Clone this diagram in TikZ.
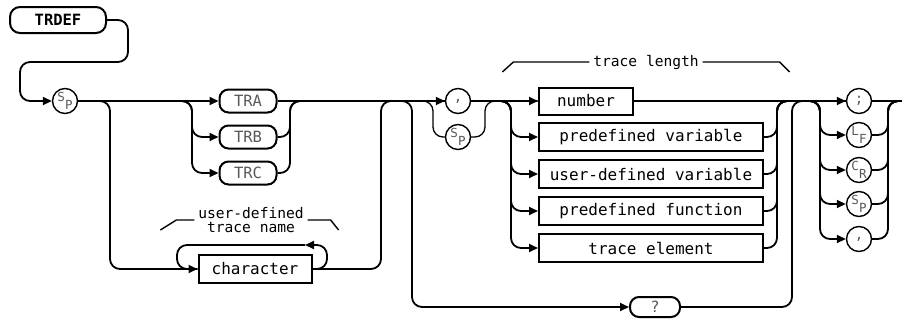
\documentclass[tikz,border=0pt]{standalone}
\usepackage{fontspec}
\usetikzlibrary{arrows.meta}
\newfontfamily\hpfont{DejaVu Sans Mono}
\newcommand{\twolet}[2]{\raisebox{3.5pt}{#1}\kern0.3pt\raisebox{-4.5pt}{#2}}

\begin{document}
\begin{tikzpicture}[x=1pt,y=-1pt,line width=1.8pt,
	box/.style={draw,line width=2pt,minimum height=28pt,inner sep=0pt,font=\hpfont\fontsize{16}{18}\selectfont},
	pill/.style={draw,line width=2pt,rounded corners=9pt,minimum height=23pt,inner sep=0pt,text=black!65,font=\hpfont\fontsize{15.5}{18}\selectfont},
	term/.style={draw,circle,line width=1.4pt,minimum size=25pt,inner sep=0pt,text=black!65,font=\hpfont\fontsize{12.5}{12}\selectfont},
	note/.style={inner sep=3pt,align=center,font=\hpfont\fontsize{14.6}{14}\selectfont},
	tip/.style={-{Triangle[length=9pt,width=8pt]}},
	rail/.style={rounded corners=10pt}]
	\useasboundingbox (0,0) rectangle (902,322);
	% nodes
	\node[box,rounded corners=10pt,minimum width=96pt,minimum height=26pt,font=\hpfont\bfseries\fontsize{15.5}{18}\selectfont] (trdef) at (58,20) {TRDEF};
	\node[term] (sp1) at (65,101) {\twolet{S}{P}};
	\node[pill,minimum width=57pt] (tra) at (248,101) {TRA};
	\node[pill,minimum width=57pt] (trb) at (248,137) {TRB};
	\node[pill,minimum width=57pt] (trc) at (248,173) {TRC};
	\node[note] (tname) at (251,220) {user-defined\\trace name};
	\node[box,minimum width=113pt] (chr) at (255,269) {character};
	\node[term] (c1) at (458,101) {\fontsize{14}{14}\selectfont,};
	\node[term] (sp2) at (458,137) {\twolet{S}{P}};
	\node[note] (tlen) at (646,62) {trace length};
	\node[box,minimum width=94pt,minimum height=27pt] (num) at (586,101) {number};
	\node[box,minimum width=224pt] (pv) at (651,137) {predefined variable};
	\node[box,minimum width=224pt] (uv) at (651,174) {user-defined variable};
	\node[box,minimum width=224pt] (pf) at (651,211) {predefined function};
	\node[box,minimum width=224pt] (te) at (651,248) {trace element};
	\node[pill,minimum width=50pt,minimum height=20pt] (qm) at (655,307) {?};
	\node[term] (semi) at (859,101) {\fontsize{14}{14}\selectfont;};
	\node[term] (lf) at (859,135) {\twolet{L}{F}};
	\node[term] (cr) at (859,170) {\twolet{C}{R}};
	\node[term] (sp3) at (859,204) {\twolet{S}{P}};
	\node[term] (cm2) at (859,239) {\fontsize{14}{14}\selectfont,};
	% bends
	\coordinate (t1) at (128,62);
	\coordinate (t2) at (20,62);
	\coordinate (b1) at (110,101);
	\coordinate (v1) at (192,101);
	\coordinate (v2) at (290,101);
	\coordinate (v3) at (381,101);
	\coordinate (l1) at (327,245);
	\coordinate (l2) at (305,245);
	\coordinate (l3) at (177,245);
	\coordinate (q1) at (412,101);
	\coordinate (s1) at (433,101);
	\coordinate (s2) at (485,101);
	\coordinate (n1) at (511,101);
	\coordinate (n2) at (777,101);
	\coordinate (q2) at (792,101);
	\coordinate (m1) at (820,101);
	\coordinate (m2) at (888,101);
	\coordinate (exit) at (902,101);
	% main line
	\draw[rail,tip] (trdef.east) -| (t1) -- (t2) |- (sp1.west);
	\draw[tip] (sp1.east) -- (tra.west);
	\draw[tip] (tra.east) -- (c1.west);
	\draw[tip] (c1.east) -- (num.west);
	\draw[tip] (num.east) -- (semi.west);
	\draw (semi.east) -- (exit);
	% trace choice
	\draw[rail,tip] (sp1.east) -- (v1) |- (trb.west);
	\draw[rail,tip] (sp1.east) -- (v1) |- (trc.west);
	\draw[rail] (trb.east) -| (v2) -- (v3);
	\draw[rail] (trc.east) -| (v2) -- (v3);
	\draw[rail,tip] (sp1.east) -- (b1) |- (chr.west);
	\draw[rail] (chr.east) -| (v3) -- (c1.west);
	\draw[rail,tip] (chr.east) -| (l1) -- (l2);
	\draw[rail] (l2) -- (l3) |- (chr.west);
	\draw[line width=1.4pt] (tname.west) -- ++(-18,0) -- ++(-16,10);
	\draw[line width=1.4pt] (tname.east) -- ++(23,0) -- ++(8,10);
	% separator
	\draw[rail,line width=1.3pt] (v3) -- (s1) |- (sp2.west);
	\draw[rail,line width=1.3pt] (sp2.east) -| (s2) -- (num.west);
	\draw[rail,tip] (v3) -- (q1) |- (qm.west);
	\draw[rail] (qm.east) -| (q2) -- (semi.west);
	% length
	\draw[rail,tip] (c1.east) -- (n1) |- (pv.west);
	\draw[rail,tip] (c1.east) -- (n1) |- (uv.west);
	\draw[rail,tip] (c1.east) -- (n1) |- (pf.west);
	\draw[rail,tip] (c1.east) -- (n1) |- (te.west);
	\draw[rail] (pv.east) -| (n2) -- (q2);
	\draw[rail] (uv.east) -| (n2) -- (q2);
	\draw[rail] (pf.east) -| (n2) -- (q2);
	\draw[rail] (te.east) -| (n2) -- (q2);
	\draw[line width=1.4pt] (tlen.west) -- ++(-76,0) -- ++(-11,10);
	\draw[line width=1.4pt] (tlen.east) -- ++(77,0) -- ++(10,10);
	% terminator
	\draw[rail,tip] (q2) -- (m1) |- (lf.west);
	\draw[rail,tip] (q2) -- (m1) |- (cr.west);
	\draw[rail,tip] (q2) -- (m1) |- (sp3.west);
	\draw[rail,tip] (q2) -- (m1) |- (cm2.west);
	\draw[rail] (lf.east) -| (m2) -- (exit);
	\draw[rail] (cr.east) -| (m2) -- (exit);
	\draw[rail] (sp3.east) -| (m2) -- (exit);
	\draw[rail] (cm2.east) -| (m2) -- (exit);
\end{tikzpicture}
\end{document}
